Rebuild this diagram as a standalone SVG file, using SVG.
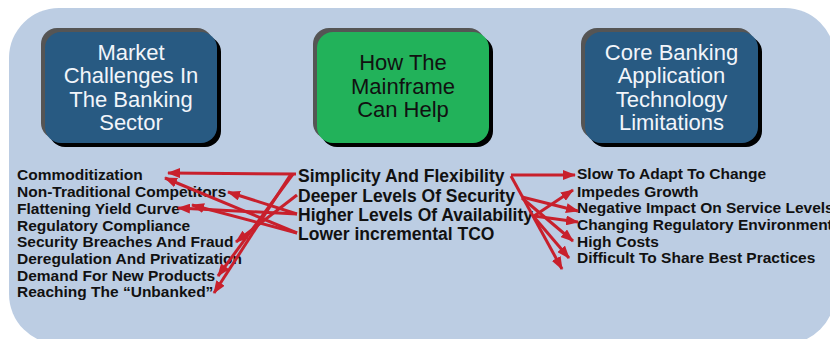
<svg xmlns="http://www.w3.org/2000/svg" width="830" height="339" viewBox="0 0 830 339">
<style>
.bg{fill:#bccde3}
.sh1{fill:#555555}
.sh2{fill:#000000}
.blue{fill:#285a82}
.green{fill:#22b25a}
.bt{font-family:"Liberation Sans",Arial,sans-serif;font-size:22px;text-anchor:middle}
.wt{fill:#f2f5fa}
.kt{fill:#111111}
.li{font-family:"Liberation Sans",Arial,sans-serif;font-weight:bold;font-size:15.5px;fill:#111111}
.mi{font-family:"Liberation Sans",Arial,sans-serif;font-weight:bold;font-size:17.5px;fill:#111111}
.ar{stroke:#c8202c;stroke-width:3;fill:none;marker-end:url(#ah)}
</style>
<defs>
<marker id="ah" viewBox="0 0 13 10" refX="12" refY="5" markerWidth="13" markerHeight="10" markerUnits="userSpaceOnUse" orient="auto">
<path d="M0,0 L13,5 L0,10 Z" fill="#c8202c"/>
</marker>
</defs>
<rect class="bg" x="9" y="8" width="826" height="336" rx="50"/>

<g id="node-market">
<rect class="sh1" x="41" y="28" width="172" height="111" rx="16"/>
<rect class="sh2" x="49" y="36" width="172" height="111" rx="16"/>
<rect class="blue" x="45" y="32" width="172" height="111" rx="16"/>
<text class="bt wt" x="131" y="60">Market</text>
<text class="bt wt" x="131" y="83">Challenges In</text>
<text class="bt wt" x="131" y="107">The Banking</text>
<text class="bt wt" x="131" y="130">Sector</text>
</g>

<g id="node-mainframe">
<rect class="sh1" x="313" y="28" width="172" height="111" rx="16"/>
<rect class="sh2" x="321" y="36" width="172" height="111" rx="16"/>
<rect class="green" x="317" y="32" width="172" height="111" rx="16"/>
<text class="bt kt" x="403" y="70">How The</text>
<text class="bt kt" x="403" y="94">Mainframe</text>
<text class="bt kt" x="403" y="117">Can Help</text>
</g>

<g id="node-core">
<rect class="sh1" x="581" y="28" width="173" height="111" rx="16"/>
<rect class="sh2" x="589" y="36" width="173" height="111" rx="16"/>
<rect class="blue" x="585" y="32" width="173" height="111" rx="16"/>
<text class="bt wt" x="671.5" y="60">Core Banking</text>
<text class="bt wt" x="671.5" y="83">Application</text>
<text class="bt wt" x="671.5" y="107">Technology</text>
<text class="bt wt" x="671.5" y="130">Limitations</text>
</g>

<g id="list-challenges">
<text class="li" x="17" y="180">Commoditization</text>
<text class="li" x="17" y="197">Non-Traditional Competitors</text>
<text class="li" x="17" y="214">Flattening Yield Curve</text>
<text class="li" x="17" y="231">Regulatory Compliance</text>
<text class="li" x="17" y="247">Security Breaches And Fraud</text>
<text class="li" x="17" y="264">Deregulation And Privatization</text>
<text class="li" x="17" y="281">Demand For New Products</text>
<text class="li" x="17" y="297">Reaching The “Unbanked”</text>
</g>

<g id="list-help">
<text class="mi" x="298" y="182">Simplicity And Flexibility</text>
<text class="mi" x="298" y="201.5">Deeper Levels Of Security</text>
<text class="mi" x="298" y="220.5">Higher Levels Of Availability</text>
<text class="mi" x="298" y="239.5">Lower incremental TCO</text>
</g>

<g id="list-limitations">
<text class="li" x="577" y="179">Slow To Adapt To Change</text>
<text class="li" x="577" y="197">Impedes Growth</text>
<text class="li" x="577" y="213">Negative Impact On Service Levels</text>
<text class="li" x="577" y="230">Changing Regulatory Environment</text>
<text class="li" x="577" y="247">High Costs</text>
<text class="li" x="577" y="263">Difficult To Share Best Practices</text>
</g>

<g id="connectors">
<path class="ar" d="M296,174 L168,173"/>
<path class="ar" d="M293,174 L218,276"/>
<path class="ar" d="M291,174 L214,293"/>
<path class="ar" d="M297,195 L236,242"/>
<path class="ar" d="M297,214 L228,192"/>
<path class="ar" d="M297,214 L178,208"/>
<path class="ar" d="M297,233 L165,178"/>
<path class="ar" d="M297,233 L192,205"/>
<path class="ar" d="M511,175 L575,175"/>
<path class="ar" d="M511,176 L562,269"/>
<path class="ar" d="M522,197 L578,211"/>
<path class="ar" d="M522,198 L573,241"/>
<path class="ar" d="M534,216 L573,190"/>
<path class="ar" d="M534,216 L578,222"/>
<path class="ar" d="M534,217 L569,258"/>
</g>
</svg>
